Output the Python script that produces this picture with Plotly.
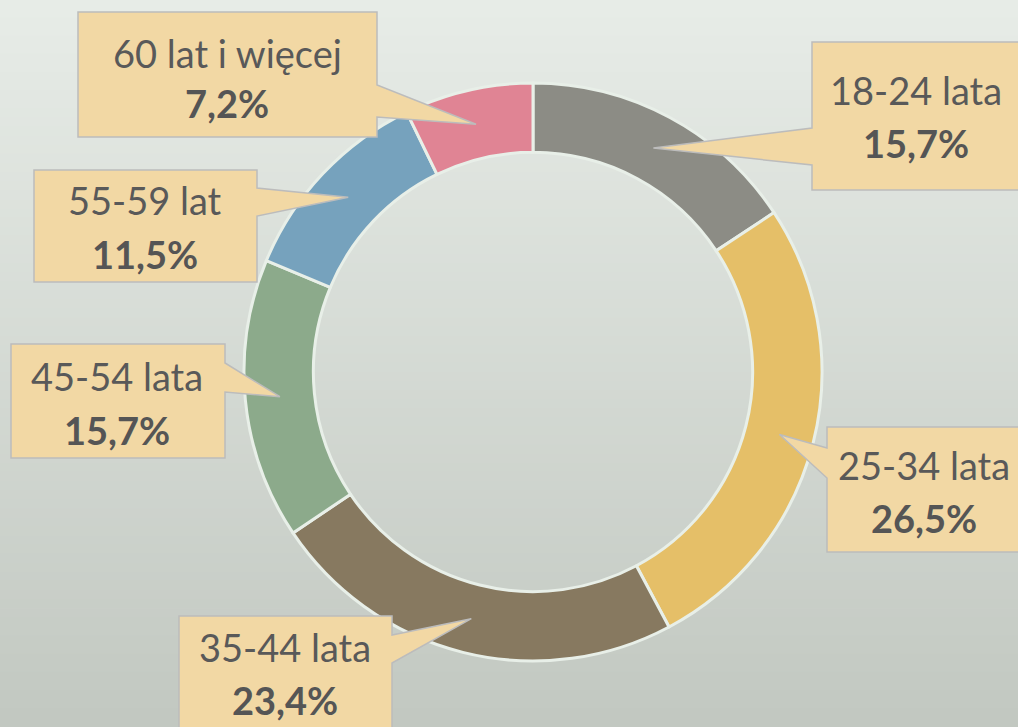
import math
import plotly.graph_objects as go

# age groups and their shares (%)
groups = ["18-24 lata", "25-34 lata", "35-44 lata", "45-54 lata", "55-59 lat", "60 lat i więcej"]
shares = [15.7, 26.5, 23.4, 15.7, 11.5, 7.2]
share_labels = ["15,7%", "26,5%", "23,4%", "15,7%", "11,5%", "7,2%"]
colors = ["#8c8c85", "#e5bf68", "#877960", "#8caa8b", "#76a2bd", "#e08494"]

W, H = 1018, 727
CX, CY, R_OUT, HOLE = 533, 372, 289, 0.76
R_TIP = R_OUT * (1 + HOLE) / 2

# callout boxes: (x0, x1, y0, y1, side of pointer, pointer base y0, y1)
boxes = [
    (812, 1030, 42, 190, "left", 128, 165),
    (827, 1030, 427, 552, "left", 448, 478),
    (179, 392, 616, 740, "right", 635, 663),
    (11, 225, 344, 458, "right", 363, 392),
    (34, 257, 170, 282, "right", 188, 216),
    (78, 377, 12, 137, "right", 85, 117),
]
text_pos = [(916, 90, 143), (924, 465, 518), (285, 647, 700),
            (117, 376, 430), (145, 200, 254), (227, 53, 103)]

fig = go.Figure()

fig.add_trace(go.Pie(
    labels=groups, values=shares, hole=HOLE, sort=False, direction="clockwise",
    rotation=0, textinfo="none", hoverinfo="label+percent",
    marker=dict(colors=colors, line=dict(color="#e8efe8", width=3)),
    domain=dict(x=[(CX - R_OUT) / W, (CX + R_OUT) / W],
                y=[1 - (CY + R_OUT) / H, 1 - (CY - R_OUT) / H]),
    showlegend=False,
))

# invisible scatter to set up pixel-like axes
fig.add_trace(go.Scatter(x=[0, W], y=[0, H], mode="markers",
                         marker=dict(opacity=0), hoverinfo="skip", showlegend=False))

shapes = []
# vertical gradient background
n = 80
top, bot = (231, 236, 231), (194, 200, 193)
for i in range(n):
    t = i / (n - 1)
    c = tuple(round(top[k] + (bot[k] - top[k]) * t) for k in range(3))
    shapes.append(dict(type="rect", xref="paper", yref="paper", layer="below",
                       x0=0, x1=1, y0=1 - (i + 1) / n, y1=1 - i / n + 0.001,
                       fillcolor="rgb(%d,%d,%d)" % c, line=dict(width=0)))

cum = 0
for i, v in enumerate(shares):
    mid = (cum + v / 2) / sum(shares) * 2 * math.pi
    cum += v
    tx = CX + R_TIP * math.sin(mid)
    ty = CY - R_TIP * math.cos(mid)
    x0, x1, y0, y1, side, b0, b1 = boxes[i]
    if side == "right":
        path = (f"M{x0},{y0} L{x1},{y0} L{x1},{b0} L{tx:.1f},{ty:.1f} L{x1},{b1} "
                f"L{x1},{y1} L{x0},{y1} Z")
    else:
        path = (f"M{x0},{y0} L{x1},{y0} L{x1},{y1} L{x0},{y1} L{x0},{b1} "
                f"L{tx:.1f},{ty:.1f} L{x0},{b0} Z")
    shapes.append(dict(type="path", xref="x", yref="y", layer="above", path=path,
                       fillcolor="#f2d8a4", line=dict(color="#bcbcbc", width=1.5)))

annotations = []
for i, g in enumerate(groups):
    x, y_l, y_v = text_pos[i]
    annotations.append(dict(x=x, y=y_l, xref="x", yref="y", text=g, showarrow=False,
                            font=dict(size=38, color="#595959", family="Lato")))
    annotations.append(dict(x=x, y=y_v, xref="x", yref="y", text="<b>" + share_labels[i] + "</b>",
                            showarrow=False,
                            font=dict(size=38, color="#555555", family="Lato")))

fig.update_layout(
    width=W, height=H, margin=dict(l=0, r=0, t=0, b=0),
    paper_bgcolor="#d6dcd5", plot_bgcolor="rgba(0,0,0,0)",
    xaxis=dict(range=[0, W], visible=False, fixedrange=True, domain=[0, 1]),
    yaxis=dict(range=[H, 0], visible=False, fixedrange=True, domain=[0, 1]),
    shapes=shapes, annotations=annotations,
)

fig.write_html("out.html", config={"displayModeBar": False},
               post_script="document.body.style.margin='0';")
